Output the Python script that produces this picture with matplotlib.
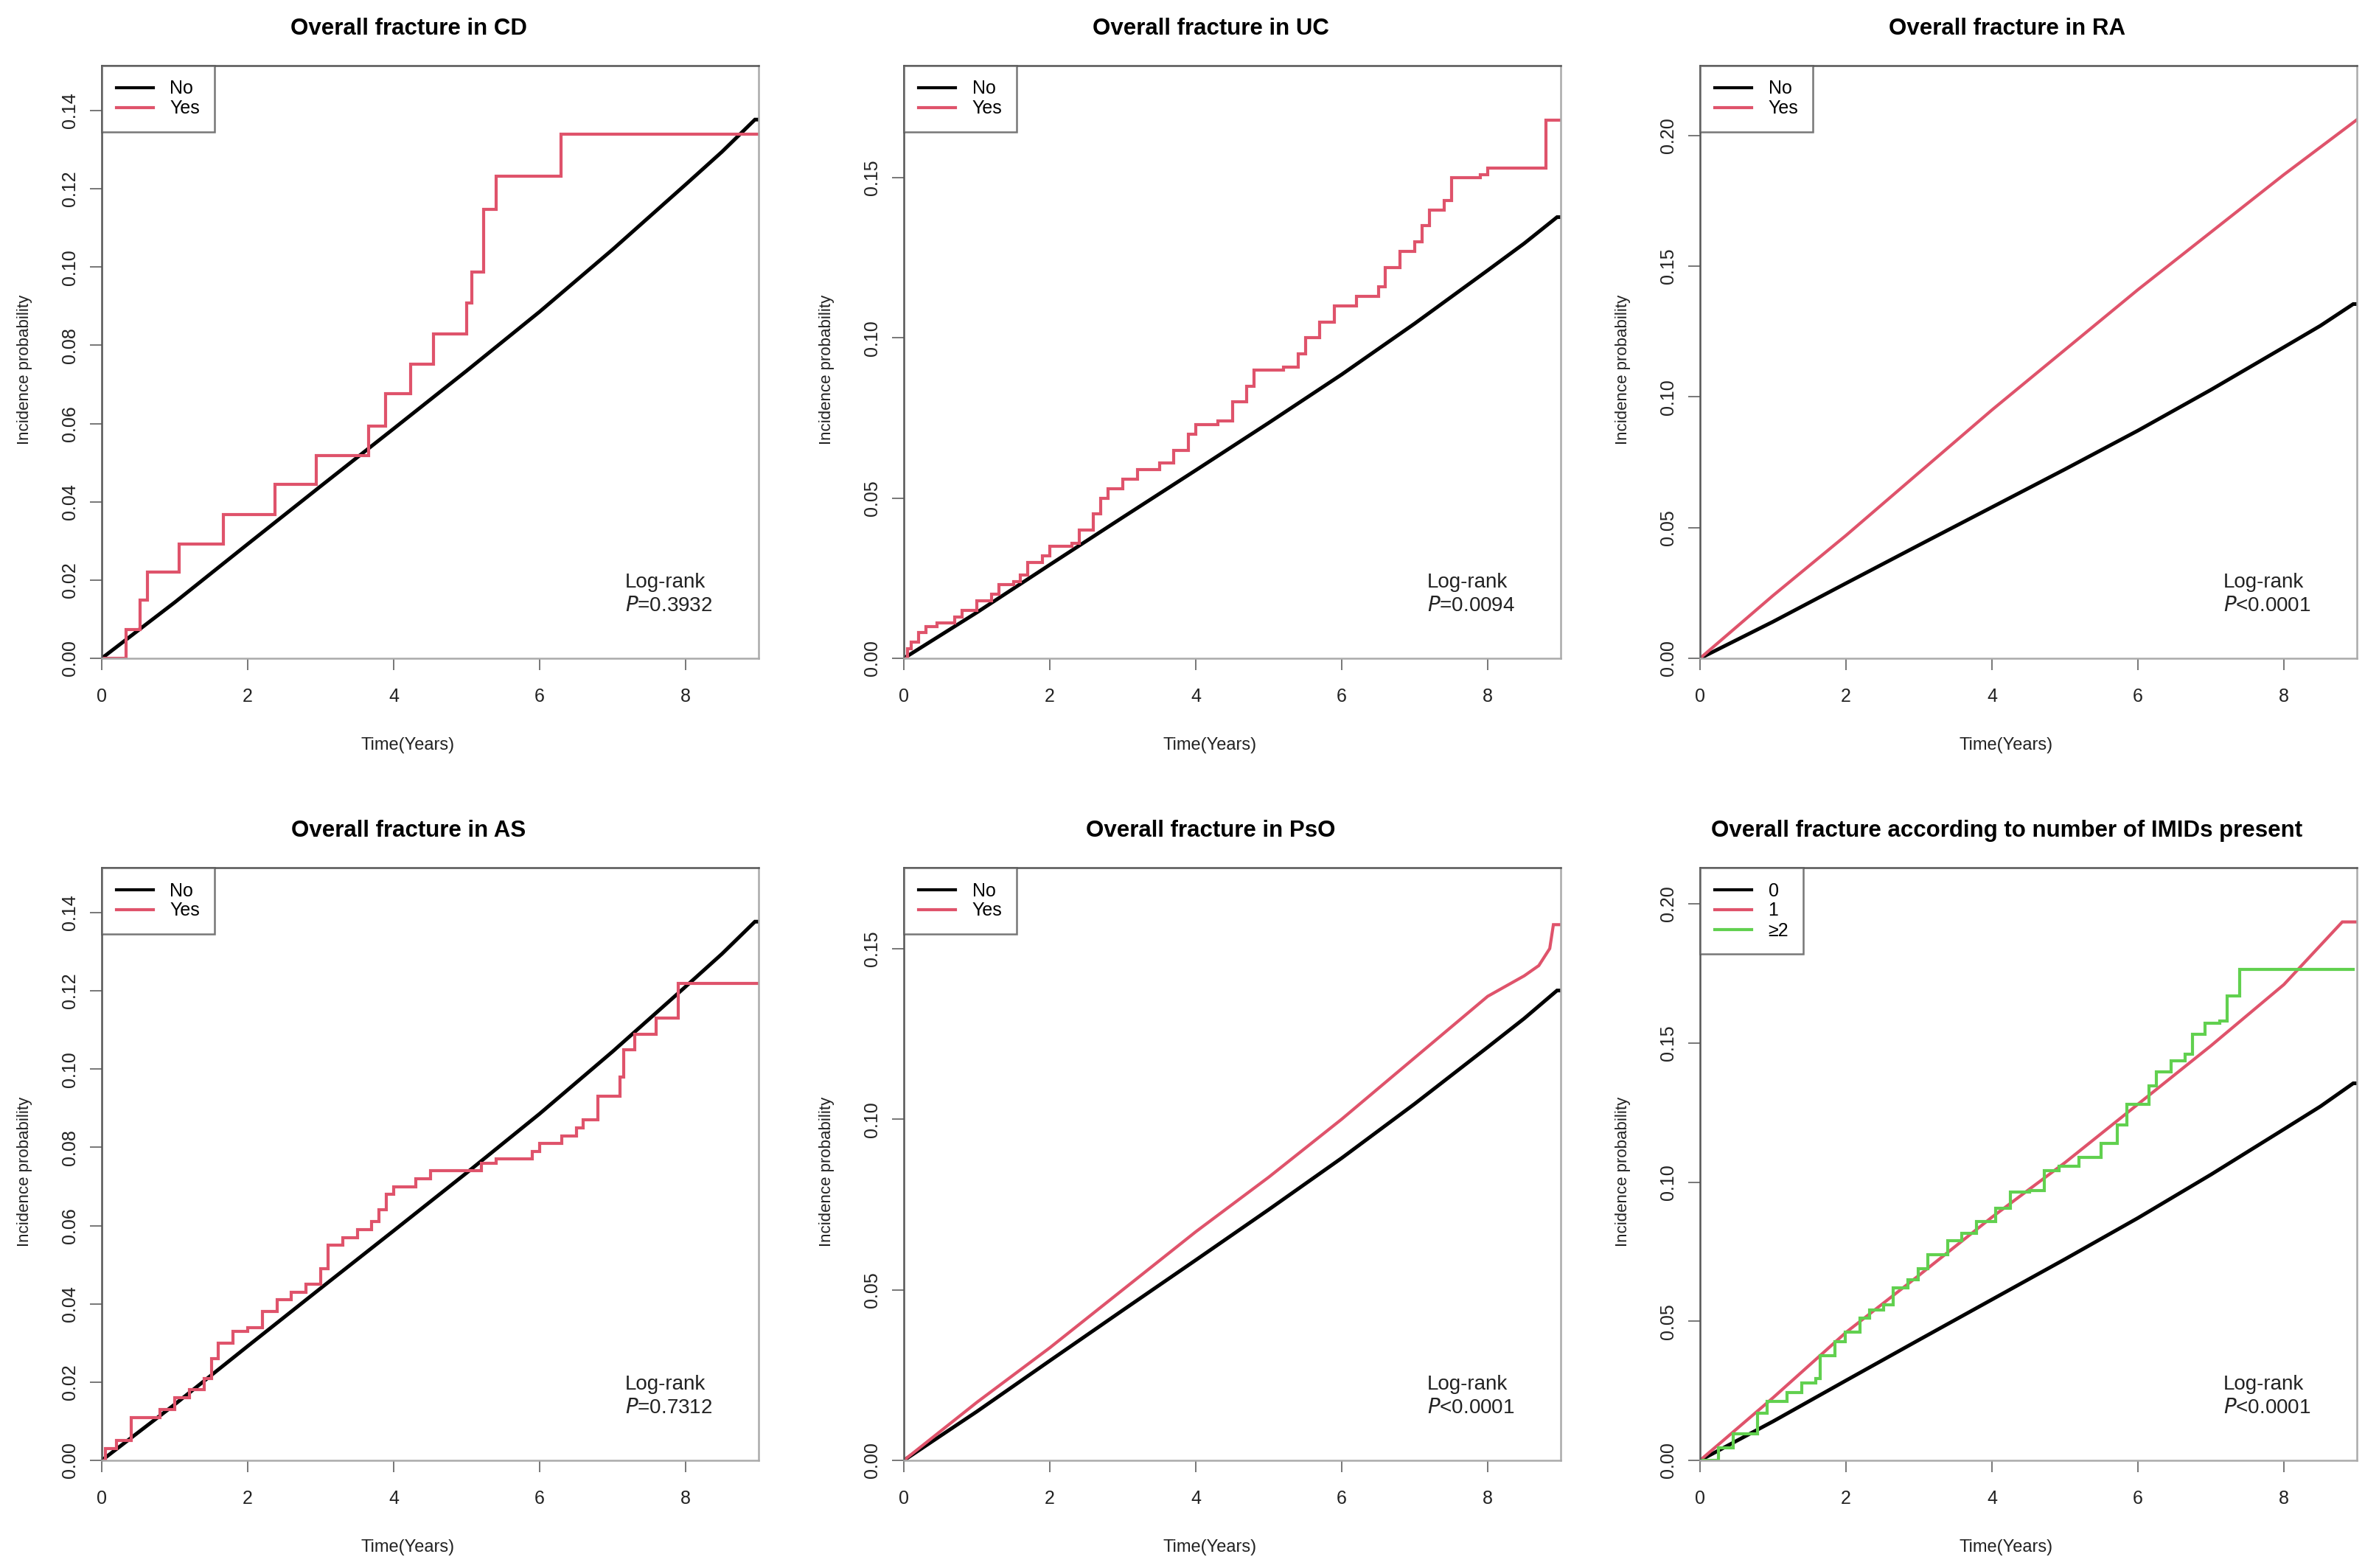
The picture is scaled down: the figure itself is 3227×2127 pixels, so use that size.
import matplotlib
matplotlib.use("Agg")
import matplotlib.pyplot as plt
from matplotlib.lines import Line2D

plt.rcParams['font.family'] = ['Liberation Sans', 'DejaVu Sans']

W, H = 3227, 2127
RED = '#DF536B'
GREEN = '#61D04F'

titles = ["Overall fracture in CD", "Overall fracture in UC", "Overall fracture in RA",
          "Overall fracture in AS", "Overall fracture in PsO",
          "Overall fracture according to number of IMIDs present"]
pvals = ["=0.3932", "=0.0094", "<0.0001", "=0.7312", "<0.0001", "<0.0001"]
ymax = [0.1515, 0.185, 0.2267, 0.1515, 0.1737, 0.2130]
ytick_step = [0.02, 0.05, 0.05, 0.02, 0.05, 0.05]
xticks = [0, 2, 4, 6, 8]

# reference ("No" / "0") curves
no_t = [0, 1, 2, 3, 4, 5, 6, 7, 8, 8.5, 8.95, 9.0]
no_v_a = [0, 0.0143, 0.0292, 0.0440, 0.0587, 0.0735, 0.0886, 0.1045, 0.1211, 0.1295, 0.1377, 0.1377]
no_v_b = [0, 0.0140, 0.0287, 0.0433, 0.0578, 0.0723, 0.0871, 0.1027, 0.1190, 0.1272, 0.1355, 0.1355]

# CD "Yes" (step)
cd_t = [0, 0.33, 0.53, 0.63, 1.06, 1.67, 2.37, 2.94, 3.66, 3.89, 4.23, 4.55, 5.00, 5.07, 5.23, 5.40, 6.29, 9.0]
cd_v = [0, 0.0073, 0.0149, 0.0221, 0.0293, 0.0367, 0.0444, 0.0519, 0.0593, 0.0676, 0.0751, 0.0829,
        0.0908, 0.0987, 0.1148, 0.1233, 0.1339, 0.1339]

# UC "Yes" (step)
uc_t = [0, 0.05, 0.1, 0.2, 0.3, 0.45, 0.7, 0.8, 1.0, 1.2, 1.3, 1.5, 1.6, 1.7, 1.9, 2.0, 2.3, 2.4, 2.6,
        2.7, 2.8, 3.0, 3.2, 3.5, 3.7, 3.9, 4.0, 4.3, 4.5, 4.7, 4.8, 5.2, 5.4, 5.5, 5.7, 5.9, 6.2, 6.5,
        6.6, 6.8, 7.0, 7.1, 7.2, 7.4, 7.5, 7.9, 8.0, 8.8, 9.0]
uc_v = [0, 0.003, 0.005, 0.008, 0.010, 0.011, 0.013, 0.015, 0.018, 0.020, 0.023, 0.024, 0.026, 0.030,
        0.032, 0.035, 0.036, 0.040, 0.045, 0.050, 0.053, 0.056, 0.059, 0.061, 0.065, 0.070, 0.073,
        0.074, 0.080, 0.085, 0.090, 0.091, 0.095, 0.100, 0.105, 0.110, 0.113, 0.116, 0.122, 0.127,
        0.130, 0.135, 0.140, 0.143, 0.150, 0.151, 0.153, 0.168, 0.168]

# RA "Yes"
ra_t = [0, 1, 2, 3, 4, 5, 6, 7, 8, 9]
ra_v = [0, 0.024, 0.047, 0.071, 0.095, 0.118, 0.141, 0.163, 0.185, 0.206]

# AS "Yes" (step)
as_t = [0, 0.05, 0.2, 0.4, 0.8, 1.0, 1.2, 1.4, 1.5, 1.6, 1.8, 2.0, 2.2, 2.4, 2.6, 2.8, 3.0, 3.1, 3.3,
        3.5, 3.7, 3.8, 3.9, 4.0, 4.3, 4.5, 5.2, 5.4, 5.9, 6.0, 6.3, 6.5, 6.6, 6.8, 7.1, 7.15, 7.3,
        7.6, 7.9, 9.0]
as_v = [0, 0.003, 0.005, 0.011, 0.013, 0.016, 0.018, 0.021, 0.026, 0.030, 0.033, 0.034, 0.038, 0.041,
        0.043, 0.045, 0.049, 0.055, 0.057, 0.059, 0.061, 0.064, 0.068, 0.070, 0.072, 0.074, 0.076,
        0.077, 0.079, 0.081, 0.083, 0.085, 0.087, 0.093, 0.098, 0.105, 0.109, 0.113, 0.122, 0.122]

# PsO "Yes"
pso_t = [0, 1, 2, 3, 4, 5, 6, 7, 8, 8.5, 8.7, 8.85, 8.9, 9.0]
pso_v = [0, 0.017, 0.033, 0.050, 0.067, 0.083, 0.100, 0.118, 0.136, 0.142, 0.145, 0.150, 0.157, 0.157]

# IMIDs: "1" and ">=2"
one_t = [0, 1, 2, 3, 4, 5, 6, 7, 8, 8.8, 9.0]
one_v = [0, 0.0225, 0.046, 0.0665, 0.0874, 0.107, 0.128, 0.149, 0.171, 0.1935, 0.1935]
two_t = [0, 0.25, 0.45, 0.79, 0.92, 1.19, 1.39, 1.59, 1.65, 1.85, 1.99, 2.19, 2.32, 2.52, 2.65, 2.85,
         2.99, 3.12, 3.39, 3.59, 3.79, 4.05, 4.25, 4.52, 4.72, 4.92, 5.19, 5.49, 5.72, 5.85, 6.15,
         6.25, 6.45, 6.65, 6.75, 6.92, 7.12, 7.22, 7.39, 8.95]
two_v = [0, 0.0046, 0.0096, 0.017, 0.0212, 0.0245, 0.0278, 0.0295, 0.0377, 0.0427, 0.046, 0.051,
         0.054, 0.056, 0.062, 0.065, 0.069, 0.074, 0.079, 0.0816, 0.0858, 0.0907, 0.0965, 0.097,
         0.104, 0.1056, 0.109, 0.114, 0.1205, 0.128, 0.1346, 0.1396, 0.1437, 0.146, 0.153, 0.157,
         0.158, 0.167, 0.1765, 0.1765]

fig = plt.figure(figsize=(W / 100, H / 100), dpi=100)

lefts = [138, 1226, 2306]
tops = [89, 1177]
aw, ah = 891, 804


def px(x, y):
    return x / W, 1 - y / H


axes = []
for r in range(2):
    for c in range(3):
        l, t = lefts[c], tops[r]
        ax = fig.add_axes([l / W, 1 - (t + ah) / H, aw / W, ah / H])
        axes.append((ax, l, t))

series = [
    [(no_t, no_v_a, 'black', 'No', 'line'), (cd_t, cd_v, RED, 'Yes', 'step')],
    [(no_t, no_v_a, 'black', 'No', 'line'), (uc_t, uc_v, RED, 'Yes', 'step')],
    [(no_t, no_v_b, 'black', 'No', 'line'), (ra_t, ra_v, RED, 'Yes', 'line')],
    [(no_t, no_v_a, 'black', 'No', 'line'), (as_t, as_v, RED, 'Yes', 'step')],
    [(no_t, no_v_a, 'black', 'No', 'line'), (pso_t, pso_v, RED, 'Yes', 'line')],
    [(no_t, no_v_b, 'black', '0', 'line'), (one_t, one_v, RED, '1', 'line'),
     (two_t, two_v, GREEN, '\u22652', 'step')],
]

for i, (ax, l, t) in enumerate(axes):
    handles = []
    for (xs, ys, col, lab, kind) in series[i]:
        lw = 3.6 if col == 'black' else 3.0
        ds = 'steps-post' if kind == 'step' else 'default'
        ax.plot(xs, ys, color=col, lw=lw, drawstyle=ds, solid_joinstyle='miter')
        handles.append(Line2D([0], [0], color=col, lw=3.0))
    ax.set_xlim(0, 9)
    ax.set_ylim(0, ymax[i])
    ax.set_xticks(xticks)
    st = ytick_step[i]
    n = int(ymax[i] / st + 1e-9)
    yt = [k * st for k in range(n + 1)]
    ax.set_yticks(yt)
    ax.set_yticklabels([f"{v:.2f}" for v in yt], rotation=90, va='center')
    ax.tick_params(axis='both', direction='out', length=11.5, width=1.4, color='#777777',
                   labelsize=18, labelcolor='#222222')
    ax.tick_params(axis='x', pad=17)
    ax.tick_params(axis='y', pad=11)
    for s in ['left', 'top']:
        ax.spines[s].set_color('#555555')
        ax.spines[s].set_linewidth(1.8)
    for s in ['right', 'bottom']:
        ax.spines[s].set_color('#aaaaaa')
        ax.spines[s].set_linewidth(1.8)
    leg = ax.legend(handles, [s[3] for s in series[i]], loc='upper left', borderaxespad=0,
                    fontsize=18, frameon=True, fancybox=False, handlelength=2.0,
                    handletextpad=0.92, labelspacing=0.12, borderpad=0.78)
    leg.get_frame().set_edgecolor('#555555')
    leg.get_frame().set_linewidth(1.8)
    # title
    fx, fy = px(l + aw / 2 - 29, t - 50)
    fig.text(fx, fy, titles[i], ha='center', va='center', fontsize=22.5, fontweight='bold')
    # x label
    fx, fy = px(l + aw / 2 - 30, t + ah + 118)
    fig.text(fx, fy, "Time(Years)", ha='center', va='center', fontsize=17, color='#222222')
    # y label
    fx, fy = px(l - 104, t + ah / 2 + 10)
    fig.text(fx, fy, "Incidence probability", ha='center', va='center', fontsize=16,
             rotation=90, color='#222222')
    # log-rank
    ax.text(0.797, 0.128, "Log-rank", transform=ax.transAxes, fontsize=20, va='center',
            ha='left', color='#222222')
    ax.text(0.797, 0.088, r"$\mathit{P}$" + pvals[i], transform=ax.transAxes, fontsize=20,
            va='center', ha='left', color='#222222')

fig.savefig("out.png", dpi=100, facecolor='white')
